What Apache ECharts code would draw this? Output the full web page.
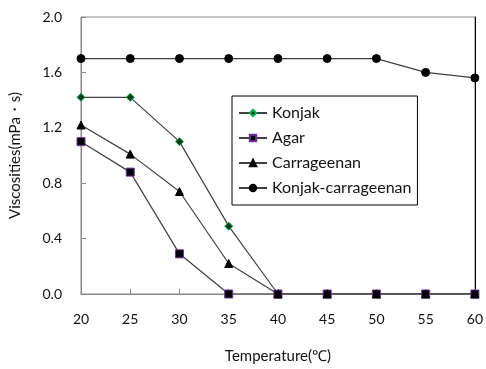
<!DOCTYPE html>
<html><head><meta charset="utf-8">
<script src="https://cdn.jsdelivr.net/npm/echarts@6/dist/echarts.min.js"></script>
<style>html,body{margin:0;padding:0;background:#fff}#c{width:486px;height:369px}</style>
</head><body><div id="c"></div>
<script>
var temps = [20, 25, 30, 35, 40, 45, 50, 55, 60];
var konjak = [1.42, 1.42, 1.10, 0.49, 0, 0, 0, 0, 0];
var agar = [1.10, 0.88, 0.29, 0, 0, 0, 0, 0, 0];
var carrageenan = [1.22, 1.01, 0.74, 0.22, 0, 0, 0, 0, 0];
var konjakCarrageenan = [1.70, 1.70, 1.70, 1.70, 1.70, 1.70, 1.70, 1.60, 1.56];
var seriesNames = ['Konjak', 'Agar', 'Carrageenan', 'Konjak-carrageenan'];

function pairs(v){ return temps.map(function(t,i){ return [t, v[i]]; }); }
var font = 'Lato, "Open Sans", sans-serif';
function mk(name, data, symbol, size, fill, border){
  return {
    name: name, type: 'line', data: pairs(data), symbol: symbol, symbolSize: size,
    lineStyle: {color: '#404040', width: 1.2},
    itemStyle: {color: fill, borderColor: border, borderWidth: 1},
    emphasis: {disabled: true}, animation: false
  };
}
var chart = echarts.init(document.getElementById('c'));
chart.setOption({
  backgroundColor: '#fff',
  animation: false,
  grid: {left: 81, right: 9, top: 17, bottom: 71, show: true, borderColor: '#888', borderWidth: 1},
  legend: {
    orient: 'vertical', left: 232, top: 96,
    borderColor: '#000', borderWidth: 1, padding: [9, 6, 9, 6],
    itemWidth: 28, itemHeight: 8, itemGap: 9,
    textStyle: {fontFamily: font, fontSize: 16, color: '#111'},
    data: seriesNames
  },
  xAxis: [{
    type: 'value', min: 20, max: 60, interval: 5,
    name: 'Temperature(℃)', nameLocation: 'middle', nameGap: 55,
    nameTextStyle: {fontFamily: font, fontSize: 15, color: '#111'},
    axisLine: {lineStyle: {color: '#888'}},
    axisTick: {inside: true, length: 5, lineStyle: {color: '#888'}},
    axisLabel: {fontFamily: font, fontSize: 14, color: '#111', margin: 18},
    splitLine: {show: false}
  }],
  yAxis: [{
    type: 'value', min: 0, max: 2, interval: 0.4,
    name: 'Viscosities(mPa・s)', nameLocation: 'middle', nameGap: 58,
    nameTextStyle: {fontFamily: font, fontSize: 15, color: '#111'},
    axisLine: {show: true, lineStyle: {color: '#888'}},
    axisTick: {show: true, inside: true, length: 5, lineStyle: {color: '#888'}},
    axisLabel: {fontFamily: font, fontSize: 14, color: '#111', margin: 19,
      formatter: function(v){ return v.toFixed(1); }},
    splitLine: {show: false}
  }, {
    type: 'value', min: 0, max: 2, position: 'right',
    axisLine: {show: true, lineStyle: {color: '#000'}},
    axisTick: {show: false}, axisLabel: {show: false}, splitLine: {show: false}
  }],
  series: [
    mk('Konjak', konjak, 'diamond', 8, '#0a3a1a', '#00b050'),
    mk('Agar', agar, 'rect', 8, '#000', '#7030a0'),
    mk('Carrageenan', carrageenan, 'triangle', 8, '#000', '#000'),
    mk('Konjak-carrageenan', konjakCarrageenan, 'circle', 8, '#000', '#000')
  ]
});
</script></body></html>
